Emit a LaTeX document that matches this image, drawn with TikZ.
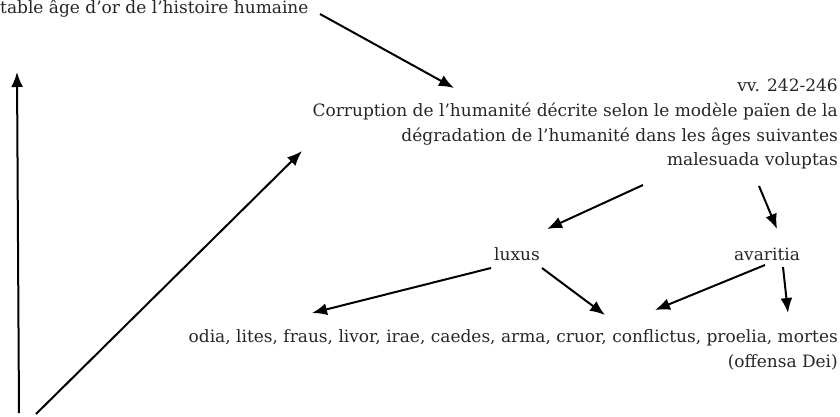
\documentclass[tikz,border=0pt]{standalone}
\usepackage{fontspec}
\setmainfont{DejaVu Serif}
\usetikzlibrary{arrows.meta}
\definecolor{txt}{HTML}{262626}
\tikzset{
  lbl/.style={inner sep=0pt, text=txt, font=\fontsize{17}{20}\selectfont},
  arr/.style={line width=2pt, -{Latex[length=15pt,width=12pt]}},
}
\begin{document}
\begin{tikzpicture}[x=1pt,y=-1pt]
\useasboundingbox (0,0) rectangle (840,416);
% texts
\node[lbl, anchor=base west] (top) at (0,13) {table âge d’or de l’histoire humaine};
\node[lbl, anchor=base east] (vv) at (838,91) {vv. 242-246};
\node[lbl, anchor=base east] (cor1) at (838,116) {Corruption de l’humanité décrite selon le modèle païen de la};
\node[lbl, anchor=base east] (cor2) at (838,141) {dégradation de l’humanité dans les âges suivantes};
\node[lbl, anchor=base east] (mal) at (838,165) {malesuada voluptas};
\node[lbl, anchor=base] (lux) at (517,260) {luxus};
\node[lbl, anchor=base] (ava) at (767,260) {avaritia};
\node[lbl, anchor=base east] (mala) at (838,342) {odia, lites, fraus, livor, irae, caedes, arma, cruor, conflictus, proelia, mortes};
\node[lbl, anchor=base east] (off) at (838,367) {(offensa Dei)};
% arrow ends
\coordinate (t1) at (320,14);  \coordinate (t2) at (454,88);
\coordinate (m1) at (643,185); \coordinate (m2) at (547,229);
\coordinate (m3) at (759,186); \coordinate (m4) at (777,229);
\coordinate (l1) at (491,268); \coordinate (l2) at (312,313);
\coordinate (l3) at (542,268); \coordinate (l4) at (605,315);
\coordinate (a1) at (765,265); \coordinate (a2) at (655,310);
\coordinate (a3) at (783,267); \coordinate (a4) at (788,313);
\coordinate (v1) at (19,413);  \coordinate (v2) at (17,72);
\coordinate (d1) at (36,414);  \coordinate (d2) at (302,151);
% arrows
\draw[arr] (t1) -- (t2);
\draw[arr] (m1) -- (m2);
\draw[arr] (m3) -- (m4);
\draw[arr] (l1) -- (l2);
\draw[arr] (l3) -- (l4);
\draw[arr] (a1) -- (a2);
\draw[arr] (a3) -- (a4);
\draw[arr] (v1) -- (v2);
\draw[arr] (d1) -- (d2);
\end{tikzpicture}
\end{document}
